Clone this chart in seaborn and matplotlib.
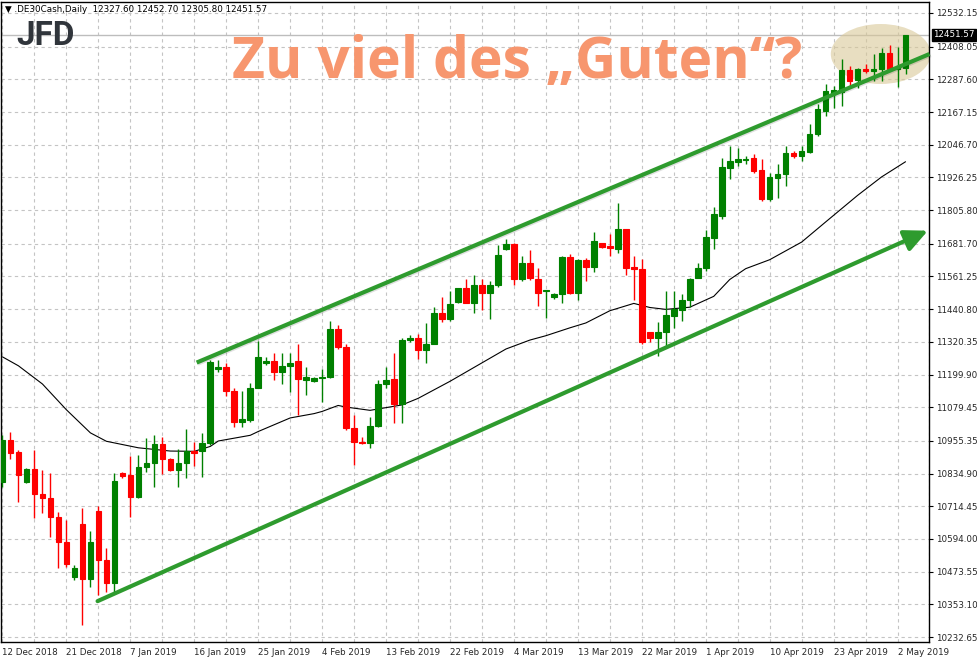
import numpy as np
import pandas as pd
import seaborn as sns
import matplotlib.pyplot as plt
from matplotlib.patches import Ellipse
from matplotlib import transforms
import matplotlib.patheffects as pe

# daily candles (bar index = position on the chart)
opens = [10803, 10957, 10913, 10803, 10851, 10759, 10744, 10674, 10582, 10453,
         10649, 10446, 10696, 10516, 10432, 10836, 10829, 10748, 10858, 10873,
         10943, 10888, 10847, 10873, 10917, 10920, 10946, 11219, 11226, 11141,
         11024, 11031, 11152, 11241, 11248, 11208, 11233, 11248, 11178, 11175,
         11186, 11189, 11366, 11301, 11002, 10950, 10946, 11009, 11164, 11182,
         11090, 11326, 11333, 11292, 11314, 11428, 11406, 11469, 11517, 11465,
         11528, 11502, 11528, 11664, 11682, 11553, 11612, 11553, 11506, 11484,
         11498, 11634, 11502, 11623, 11598, 11686, 11675, 11664, 11737, 11598,
         11587, 11355, 11336, 11355, 11417, 11436, 11476, 11557, 11594, 11704,
         11785, 11962, 11984, 11991, 11999, 11955, 11848, 11925, 11940, 12017,
         12006, 12021, 12087, 12172, 12234, 12241, 12322, 12286, 12326, 12319,
         12326, 12385, 12326, 12327.60]
highs = [10976, 10987, 10921, 10856, 10921, 10847, 10836, 10693, 10663, 10498,
         10707, 10623, 10715, 10560, 10836, 10840, 10899, 10902, 10965, 10976,
         10969, 10891, 10924, 10998, 10950, 10983, 11252, 11252, 11244, 11152,
         11141, 11167, 11325, 11263, 11281, 11278, 11278, 11314, 11226, 11189,
         11219, 11399, 11381, 11314, 11050, 10969, 11042, 11178, 11226, 11278,
         11336, 11347, 11351, 11388, 11450, 11487, 11509, 11520, 11553, 11565,
         11553, 11546, 11679, 11701, 11686, 11638, 11660, 11594, 11513, 11502,
         11638, 11645, 11627, 11631, 11726, 11686, 11719, 11833, 11737, 11638,
         11627, 11355, 11392, 11509, 11509, 11498, 11557, 11612, 11734, 11818,
         11999, 12043, 12035, 12006, 12013, 11995, 11943, 11977, 12043, 12024,
         12043, 12124, 12197, 12271, 12264, 12363, 12337, 12330, 12344, 12381,
         12403, 12414, 12407, 12452.70]
lows = [10785, 10888, 10729, 10799, 10671, 10689, 10601, 10487, 10490, 10442,
        10277, 10417, 10387, 10398, 10398, 10818, 10674, 10744, 10840, 10785,
        10833, 10844, 10785, 10818, 10862, 10822, 10942, 11208, 11119, 11005,
        11005, 11024, 11149, 11234, 11178, 11164, 11134, 11050, 11123, 11171,
        11097, 11186, 11294, 10994, 10866, 10943, 10928, 11005, 11149, 11020,
        11020, 11318, 11259, 11241, 11311, 11392, 11399, 11465, 11462, 11428,
        11438, 11406, 11524, 11660, 11528, 11546, 11550, 11454, 11410, 11480,
        11465, 11498, 11473, 11546, 11576, 11668, 11638, 11649, 11568, 11473,
        11314, 11318, 11270, 11300, 11373, 11399, 11447, 11557, 11583, 11664,
        11774, 11921, 11969, 11977, 11944, 11841, 11841, 11852, 11896, 11999,
        11988, 12017, 12080, 12153, 12183, 12190, 12264, 12256, 12311, 12282,
        12282, 12319, 12260, 12305.80]
closes = [10957, 10910, 10829, 10851, 10759, 10744, 10674, 10582, 10501, 10487,
          10446, 10582, 10516, 10432, 10807, 10825, 10748, 10858, 10873, 10943,
          10888, 10847, 10873, 10917, 10910, 10946, 11245, 11226, 11138, 11024,
          11035, 11152, 11263, 11248, 11208, 11230, 11244, 11182, 11189, 11186,
          11189, 11366, 11301, 11002, 10950, 10946, 11009, 11164, 11178, 11090,
          11329, 11333, 11292, 11314, 11428, 11406, 11461, 11517, 11465, 11528,
          11502, 11531, 11642, 11682, 11553, 11612, 11557, 11502, 11513, 11498,
          11634, 11502, 11623, 11598, 11693, 11671, 11668, 11737, 11594, 11587,
          11318, 11336, 11355, 11421, 11440, 11473, 11553, 11594, 11708, 11793,
          11966, 11988, 11995, 11995, 11951, 11848, 11929, 11940, 12017, 12006,
          12024, 12087, 12179, 12245, 12249, 12322, 12282, 12326, 12319, 12326,
          12385, 12326, 12330, 12451.57]

# moving average (black line), sampled along the chart
ma_bars = [0, 2, 5, 8, 11, 13, 17, 21, 24, 26, 27, 31, 32, 36, 39, 40, 42, 43,
           46, 50, 52, 56, 60, 63, 66, 68, 71, 73, 76, 79, 81, 83, 86, 89, 91,
           93, 96, 100, 103, 107, 110, 113]
ma_vals = [11265, 11232, 11165, 11070, 10985, 10954, 10930, 10918, 10917, 10935,
           10955, 10976, 10990, 11040, 11056, 11064, 11086, 11080, 11068, 11088,
           11112, 11175, 11243, 11294, 11327, 11343, 11372, 11390, 11435, 11462,
           11447, 11440, 11448, 11488, 11550, 11590, 11623, 11688, 11762, 11860,
           11928, 11984]

# hand drawn channel (bar, price)
upper_line = [(24.3, 11244), (116.0, 12381)]
lower_arrow = [(11.9, 10365), (115.8, 11730)]
focus_bar, focus_price = 109.9, 12381

date_ticks = [0, 8, 16, 24, 32, 40, 48, 56, 64, 72, 80, 88, 96, 104, 112]
date_labels = ['12 Dec 2018', '21 Dec 2018', '7 Jan 2019', '16 Jan 2019', '25 Jan 2019',
               '4 Feb 2019', '13 Feb 2019', '22 Feb 2019', '4 Mar 2019', '13 Mar 2019',
               '22 Mar 2019', '1 Apr 2019', '10 Apr 2019', '23 Apr 2019', '2 May 2019']
price_ticks = [12532.15, 12408.05, 12287.60, 12167.15, 12046.70, 11926.25, 11805.80,
               11681.70, 11561.25, 11440.80, 11320.35, 11199.90, 11079.45, 10955.35,
               10834.90, 10714.45, 10594.00, 10473.55, 10353.10, 10232.65]
last_price = 12451.57

df = pd.DataFrame({'o': opens, 'h': highs, 'l': lows, 'c': closes})
df['bar'] = np.arange(len(df))
df['col'] = np.where(df['c'] >= df['o'], '#008000', '#FF0000')

sns.set_style('white')
plt.rcParams['font.family'] = ['DejaVu Sans']

fig = plt.figure(figsize=(9.78, 6.61), dpi=100)
ax = fig.add_axes([0.5 / 978, 1 - 642 / 661, 929 / 978, 640 / 661])

# grid
ax.set_xticks(np.arange(0, 117, 4), minor=True)
ax.grid(True, which='both', axis='x', color='#C4C4C4', ls=(0, (3, 3)), lw=0.8)
ax.grid(True, which='major', axis='y', color='#C4C4C4', ls=(0, (3, 3)), lw=0.8)
ax.set_axisbelow(True)

ax.axhline(last_price, color='#BDBDBD', lw=1, zorder=1)

ell = Ellipse((focus_bar, focus_price), width=12.5, height=221,
              facecolor='#D9C898', alpha=0.6, edgecolor='none', zorder=1.5)
ax.add_patch(ell)

# candles
ax.vlines(df['bar'], df['l'], df['h'], colors=df['col'], lw=1, zorder=3)
body_lo = df[['o', 'c']].min(axis=1)
body_h = (df['c'] - df['o']).abs()
ax.bar(df['bar'], body_h, bottom=body_lo, width=0.7, color=df['col'],
       edgecolor=df['col'], linewidth=0.8, zorder=3)

sns.lineplot(x=ma_bars, y=ma_vals, color='black', lw=0.8, ax=ax, zorder=2)

# channel
green = '#2E9B2E'
shadow = [pe.SimpleLineShadow(offset=(0.8, -0.8), alpha=0.12), pe.Normal()]
ax.plot([p[0] for p in upper_line], [p[1] for p in upper_line], color=green,
        lw=3, solid_capstyle='butt', zorder=4, path_effects=shadow, clip_on=False)
ax.annotate('', xy=lower_arrow[1], xytext=lower_arrow[0],
            arrowprops=dict(arrowstyle='-|>,head_length=0.7,head_width=0.33',
                            color=green, lw=3, shrinkA=0, shrinkB=0,
                            mutation_scale=20),
            zorder=4, annotation_clip=False)

ax.set_xlim(-0.25, 116.0)
ax.set_ylim(10214.4, 12572.6)

ax.set_xticks(date_ticks)
ax.set_xticklabels(date_labels, ha='left', fontsize=6.3)
ax.yaxis.tick_right()
ax.set_yticks(price_ticks)
ax.set_yticklabels([f'{v:.2f}' for v in price_ticks], fontsize=6.3)
ax.tick_params(axis='both', which='major', length=3, width=0.8, color='black',
               direction='out', pad=1.5)
ax.tick_params(axis='x', which='minor', length=0)
ax.set_xlabel('')
ax.set_ylabel('')
for s in ax.spines.values():
    s.set_color('black')
    s.set_linewidth(1)

tag_tr = transforms.blended_transform_factory(ax.transAxes, ax.transData)
ax.text(1.004, last_price, f'{last_price:.2f}', transform=tag_tr, fontsize=6.3,
        color='white', va='center', ha='left',
        bbox=dict(boxstyle='square,pad=0.15', fc='black', ec='black'))

fig.text(5 / 978, 1 - 9 / 661, '\u25bc .DE30Cash,Daily  12327.60 12452.70 12305.80 12451.57',
         fontsize=6.3, va='center', ha='left', color='black')
fig.text(16 / 978, 1 - 45 / 661, 'JFD', fontsize=24, fontweight='bold',
         family=['Roboto', 'DejaVu Sans'], color='#30353B', va='baseline', ha='left')
fig.text(232 / 978, 1 - 78 / 661, 'Zu viel des \u201eGuten\u201c?', fontsize=41,
         fontweight='bold', family=['Open Sans', 'DejaVu Sans'], color='#F7966E',
         va='baseline', ha='left')

fig.savefig('out.png', dpi=100, facecolor='white')
